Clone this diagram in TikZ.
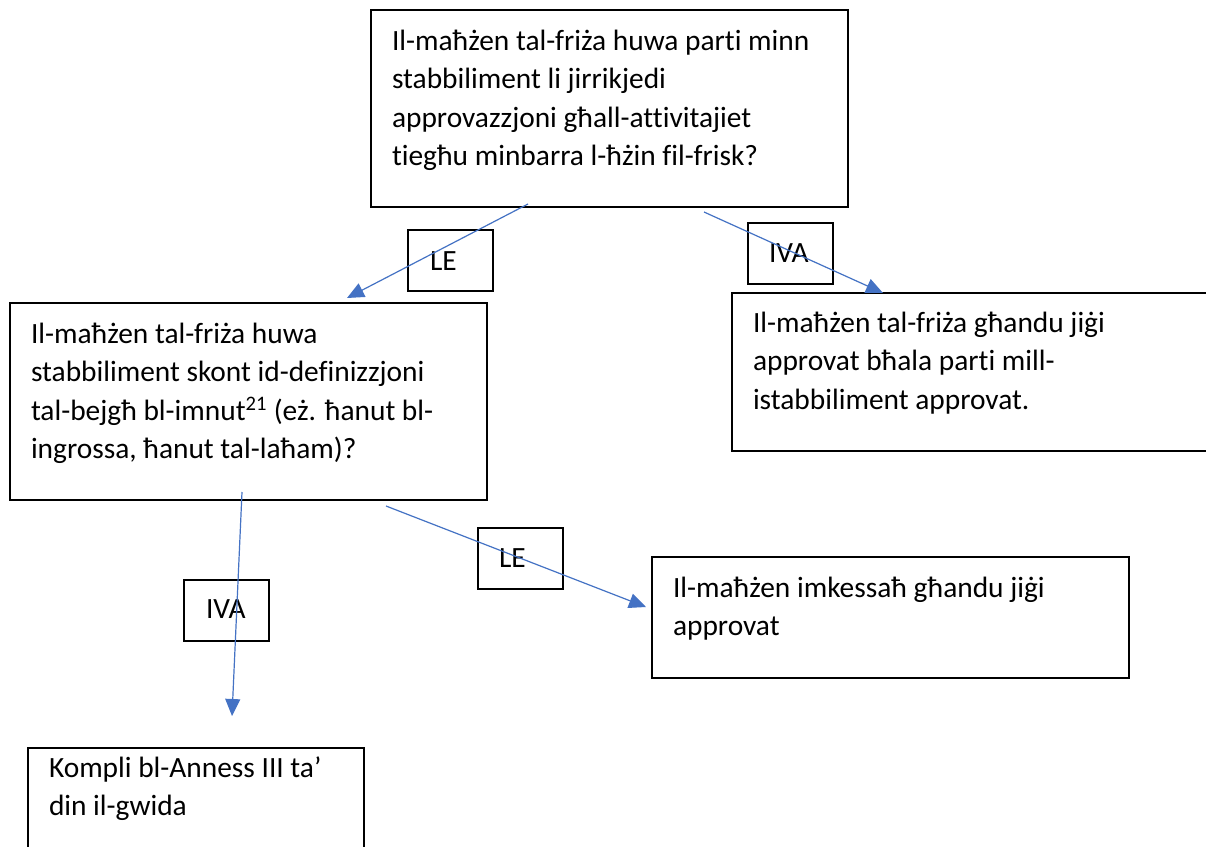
\documentclass[tikz,border=0pt]{standalone}
\usepackage{fontspec}
\setmainfont{Carlito}[Ligatures=NoCommon]
\usetikzlibrary{arrows.meta}
\definecolor{arrowblue}{HTML}{4472C4}
\newcommand{\tline}[1]{\hbox{#1}}
\newcommand{\txtblock}[1]{\vtop{\baselineskip=38.5pt\lineskiplimit=-100pt #1}}
\begin{document}
\begin{tikzpicture}[x=1pt,y=-1pt,
  box/.style={draw=black,line width=1.5pt,inner sep=0pt,outer sep=0pt,anchor=north west},
  lbl/.style={draw=black,line width=1.5pt,inner sep=0pt,outer sep=0pt,anchor=north west,minimum width=85pt,minimum height=61pt},
  txt/.style={inner sep=0pt,outer sep=0pt,anchor=base west,font=\fontsize{29.4}{38.5}\selectfont},
  arr/.style={draw=arrowblue,line width=1.2pt,-{Triangle[length=17pt,width=15pt]}}]
\path[use as bounding box,clip] (0,0) rectangle (1206,846);
\fill[white] (0,0) rectangle (1206,846);
% boxes
\node[box,minimum width=477pt,minimum height=197pt] (q1) at (371,10) {};
\node[box,minimum width=477pt,minimum height=197pt] (q2) at (10,303) {};
\node[box,minimum width=500pt,minimum height=158pt] (r1) at (732,293) {};
\node[box,minimum width=477pt,minimum height=121pt] (r2) at (652,557) {};
\node[box,minimum width=336pt,minimum height=130pt] (r3) at (28,748) {};
% texts
\node[txt] (q1t) at (392,50) {\txtblock{\tline{Il-maħżen tal-friża huwa parti minn}\tline{stabbiliment li jirrikjedi}\tline{approvazzjoni għall-attivitajiet}\tline{tiegħu minbarra l-ħżin fil-frisk?}}};
\node[txt] (q2t) at (31,343) {\txtblock{\tline{Il-maħżen tal-friża huwa}\tline{stabbiliment skont id-definizzjoni}\tline{tal-bejgħ bl-imnut\textsuperscript{21} (eż. ħanut bl-}\tline{ingrossa, ħanut tal-laħam)?}}};
\node[txt] (r1t) at (753,332) {\txtblock{\tline{Il-maħżen tal-friża għandu jiġi}\tline{approvat bħala parti mill-}\tline{istabbiliment approvat.}}};
\node[txt] (r2t) at (673,597) {\txtblock{\tline{Il-maħżen imkessaħ għandu jiġi}\tline{approvat}}};
\node[txt] (r3t) at (49,777) {\txtblock{\tline{Kompli bl-Anness III ta’}\tline{din il-gwida}}};
% labels
\node[lbl] (l1) at (408,230) {};
\node[txt] (l1t) at (430,270) {LE};
\node[lbl] (l2) at (748,223) {};
\node[txt] (l2t) at (769,262) {IVA};
\node[lbl] (l3) at (184,580) {};
\node[txt] (l3t) at (206,618) {IVA};
\node[lbl] (l4) at (478,528) {};
\node[txt] (l4t) at (499,567) {LE};
% connector ends
\coordinate (a1s) at (528,204);
\coordinate (a1e) at (347,298);
\coordinate (a2s) at (704,212);
\coordinate (a2e) at (883,293);
\coordinate (a3s) at (242,492);
\coordinate (a3e) at (232,716);
\coordinate (a4s) at (386,506);
\coordinate (a4e) at (646,607);
\draw[arr] (a1s) -- (a1e);
\draw[arr] (a2s) -- (a2e);
\draw[arr] (a3s) -- (a3e);
\draw[arr] (a4s) -- (a4e);
\end{tikzpicture}
\end{document}
